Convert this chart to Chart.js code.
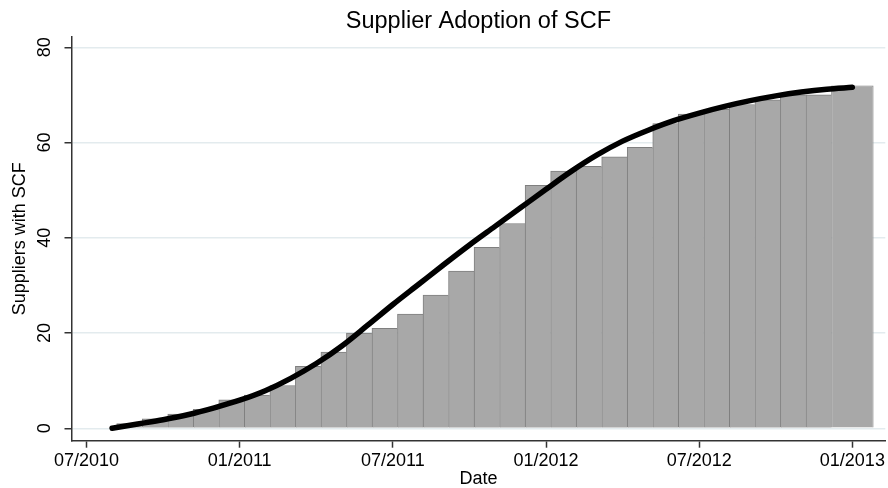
<!DOCTYPE html>
<html>
<head>
<meta charset="utf-8">
<title>Supplier Adoption of SCF</title>
<script src="https://cdn.jsdelivr.net/npm/chart.js@4.4.1/dist/chart.umd.min.js"></script>
<style>
  html, body { margin: 0; padding: 0; background: #fff; }
  #wrap { width: 888px; height: 488px; }
</style>
</head>
<body>
<div id="wrap"><canvas id="scfChart"></canvas></div>
<script>
// months are counted from 07/2010
const barMonths = [1, 2, 3, 4, 5, 6, 7, 8, 9, 10, 11, 12, 13, 14,
  15, 16, 17, 18, 19, 20, 21, 22, 23, 24, 25, 26, 27, 28];
const barValues = [1, 2, 3, 4, 6, 7, 9, 13, 16, 20, 21, 24, 28, 33,
  38, 43, 51, 54, 55, 57, 59, 64, 66, 67, 68, 69, 70, 70];
const lastBarMonth = 30;
const lastBarValue = 72;

const fitMonths = [1, 2, 3, 4, 5, 6, 7, 8, 9, 10, 11, 12, 13, 14, 15,
  16, 17, 18, 19, 20, 21, 22, 23, 24, 25, 26, 27, 28, 29, 30];
const fitValues = [0, 0.9, 1.8, 2.9, 4.3, 5.9, 7.9, 10.5, 13.6, 17.3, 21.6, 26.0, 30.2, 34.4, 38.5,
  42.4, 46.3, 50.2, 54.0, 57.4, 60.3, 62.6, 64.6, 66.2, 67.6, 68.8, 69.8, 70.6, 71.2, 71.6];

const xTickMonths = [0, 6, 12, 18, 24, 30];
const xTickLabels = ['07/2010', '01/2011', '07/2011', '01/2012', '07/2012', '01/2013'];
const yTicks = [0, 20, 40, 60, 80];

const BAR_SHIFT = 0.68;       // bins start about three weeks into the month
const LAST_BAR_WIDTH = 1.66;  // last bin is wider than the others
const AXIS_COLOR = '#333';
const BAR_FILL = '#a8a8a8';
const BAR_EDGE = '#7f7f7f';

Chart.defaults.font.family = "'Liberation Sans', Arial, sans-serif";
Chart.defaults.color = '#000';

function buildChart() {
  const ctx = document.getElementById('scfChart');
  new Chart(ctx, {
    type: 'bar',
    data: {
      datasets: [{
        type: 'line',
        label: 'Fit',
        data: fitMonths.map((m, i) => ({ x: m, y: fitValues[i] })),
        borderColor: '#000',
        borderWidth: 5.5,
        pointRadius: 0,
        cubicInterpolationMode: 'monotone',
        borderCapStyle: 'round',
        borderJoinStyle: 'round',
        fill: false,
        order: 0,
      }, {
        label: 'Suppliers',
        data: barMonths.map((m, i) => ({ x: m + BAR_SHIFT, y: barValues[i] })),
        backgroundColor: BAR_FILL,
        borderColor: BAR_EDGE,
        borderWidth: { top: 1, left: 1, right: 0, bottom: 0 },
        borderSkipped: false,
        barPercentage: 1,
        categoryPercentage: 1,
        grouped: false,
        order: 1,
      }, {
        label: 'Suppliers (last)',
        data: [{ x: lastBarMonth, y: lastBarValue }],
        backgroundColor: BAR_FILL,
        borderColor: BAR_EDGE,
        borderWidth: { top: 1, left: 1, right: 1, bottom: 0 },
        borderSkipped: false,
        barPercentage: LAST_BAR_WIDTH,
        categoryPercentage: 1,
        grouped: false,
        order: 1,
      }],
    },
    options: {
      responsive: true,
      maintainAspectRatio: false,
      animation: false,
      events: [],
      plugins: {
        legend: { display: false },
        tooltip: { enabled: false },
        title: {
          display: true,
          text: 'Supplier Adoption of SCF',
          fullSize: false,
          color: '#000',
          font: { size: 23.5, weight: 'normal', lineHeight: 1.2 },
          padding: { top: 7, bottom: 1.5 },
        },
      },
      scales: {
        x: {
          type: 'linear',
          min: -0.59,
          max: 31.29,
          offset: false,
          afterFit: (s) => { s.height = 47.3; },
          afterBuildTicks: (s) => { s.ticks = xTickMonths.map((v) => ({ value: v })); },
          ticks: {
            autoSkip: false,
            maxRotation: 0,
            padding: 3,
            font: { size: 18 },
            callback: (v) => xTickLabels[xTickMonths.indexOf(v)],
          },
          grid: {
            offset: false,
            drawOnChartArea: false,
            tickLength: 7,
            tickColor: AXIS_COLOR,
            tickWidth: 1.5,
          },
          border: { color: AXIS_COLOR, width: 1.5 },
          title: { display: true, text: 'Date', font: { size: 18, lineHeight: 1 }, padding: 0 },
        },
        y: {
          min: -2.6,
          max: 82.23,
          afterFit: (s) => { s.width = 71.5; },
          afterBuildTicks: (s) => { s.ticks = yTicks.map((v) => ({ value: v })); },
          ticks: {
            minRotation: 90,
            maxRotation: 90,
            crossAlign: 'center',
            padding: 9.5,
            font: { size: 18 },
          },
          grid: {
            color: '#e3ebee',
            lineWidth: 1.5,
            tickLength: 7,
            tickColor: AXIS_COLOR,
            tickWidth: 1.5,
          },
          border: { color: AXIS_COLOR, width: 1.5 },
          title: {
            display: true,
            text: 'Suppliers with SCF',
            font: { size: 18, lineHeight: 1.2 },
            padding: { top: 9, bottom: 0 },
          },
        },
      },
    },
  });
}

document.addEventListener('DOMContentLoaded', buildChart);
</script>
</body>
</html>
